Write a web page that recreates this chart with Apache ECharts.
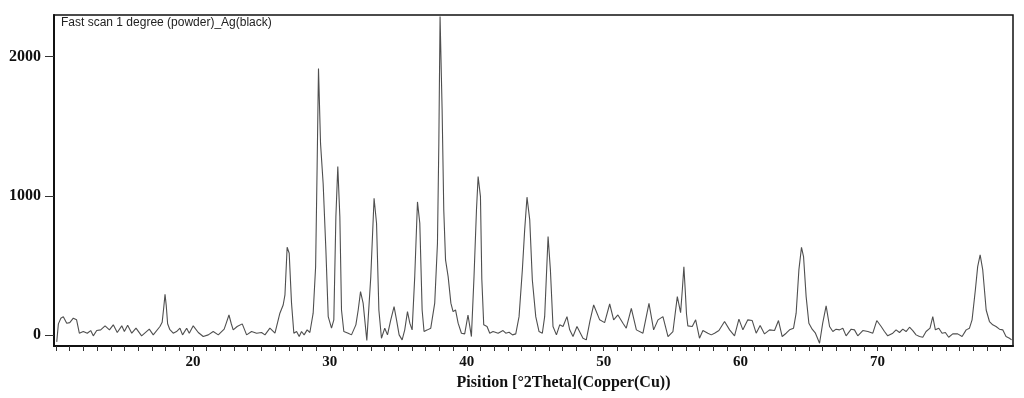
<!DOCTYPE html>
<html>
<head>
<meta charset="utf-8">
<script src="https://cdn.jsdelivr.net/npm/echarts@6/dist/echarts.min.js"></script>
<style>
html,body{margin:0;padding:0;background:#fff;}
#chart{width:1024px;height:398px;}
</style>
</head>
<body>
<div id="chart"></div>
<script>
const twoTheta = [10.05,10.17,10.35,10.53,10.78,11.0,11.26,11.5,11.7,11.99,12.28,12.53,12.72,12.97,13.26,13.58,13.9,14.18,14.47,14.8,14.99,15.23,15.53,15.84,16.25,16.81,17.1,17.59,17.75,17.87,17.96,18.05,18.15,18.3,18.56,18.8,19.05,19.24,19.54,19.73,20.02,20.39,20.75,21.12,21.48,21.85,22.28,22.45,22.63,22.8,22.94,23.23,23.6,23.92,24.28,24.65,25.01,25.26,25.62,
25.99,26.35,26.59,26.72,26.88,27.03,27.2,27.37,27.57,27.76,27.93,28.12,28.34,28.54,28.78,28.96,29.07,29.17,29.32,29.51,29.71,29.88,30.12,30.29,30.44,30.58,30.73,30.85,31.02,31.34,31.58,31.9,32.07,32.24,32.43,32.7,
32.99,33.23,33.41,33.58,33.77,34.01,34.21,34.45,34.69,34.87,35.06,35.28,35.47,35.67,35.84,36.01,36.2,36.4,36.57,36.74,36.88,37.13,37.37,37.66,37.86,37.96,38.05,38.2,38.32,38.45,38.64,38.84,39.0,39.18,39.37,39.61,39.85,40.09,40.34,40.53,40.71,40.83,41.0,41.1,41.24,
41.48,41.68,41.92,42.29,42.65,42.85,43.09,43.34,43.58,43.82,44.06,44.23,44.4,44.6,44.79,45.04,45.28,45.52,45.69,45.94,46.11,46.3,46.55,46.79,47.03,47.32,47.52,47.76,48.05,
48.49,48.73,49.0,49.27,49.71,50.07,50.44,50.73,51.04,51.41,51.65,52.02,52.39,52.87,53.31,53.65,53.97,54.33,54.7,55.06,55.38,55.62,55.75,55.86,55.97,56.05,56.15,56.47,56.72,57.0,57.25,57.61,57.86,58.1,58.42,58.83,59.2,59.56,59.88,60.17,60.53,60.85,61.14,61.43,61.75,62.12,62.48,62.77,
63.04,63.33,63.58,63.87,64.06,64.26,64.45,64.6,64.79,64.99,65.23,65.47,65.77,66.0,66.25,66.5,66.74,66.98,67.23,67.47,67.71,68.08,68.32,68.56,68.93,69.3,69.66,69.95,70.27,70.51,70.75,71.12,71.36,71.61,71.85,72.09,72.34,72.58,72.82,73.07,73.31,73.55,73.84,74.04,74.23,74.48,74.72,74.96,75.2,75.5,75.86,76.18,76.48,76.72,76.91,77.15,77.32,77.5,77.69,77.94,78.18,78.42,78.66,78.91,79.15,79.39,79.64,79.8];
const counts = [-50,79,120,131,84,88,120,108,12,24,12,31,-7,31,36,65,36,72,17,65,24,70,12,48,-7,41,0,60,90,200,292,210,80,40,12,24,48,0,48,12,65,17,-12,0,24,0,41,90,143,80,36,60,79,0,24,12,17,0,48,
12,156,215,287,630,587,228,12,24,-12,24,0,36,17,156,490,1210,1915,1375,1088,611,131,48,108,850,1210,850,179,24,12,0,72,179,311,228,-40,
419,982,803,179,-24,48,0,108,203,108,0,-36,36,167,84,36,419,956,803,179,24,36,48,228,659,1378,2290,1618,899,539,419,228,167,179,84,12,7,143,-12,419,899,1138,994,400,72,
60,12,24,12,31,12,19,0,7,131,467,755,990,827,395,131,24,12,131,707,467,60,0,72,60,131,36,-12,60,
-24,-36,100,215,108,88,222,108,143,84,48,191,36,12,227,36,108,131,-12,24,275,160,330,490,300,150,65,60,108,-24,31,12,0,12,31,96,36,-7,113,36,108,103,12,67,7,36,31,103,
-12,12,36,48,156,467,629,563,275,84,41,12,-60,84,208,60,24,41,36,48,-7,41,36,-7,31,24,12,103,60,24,-7,12,36,17,41,24,55,31,0,-12,-17,24,48,131,36,48,12,17,-17,7,7,-12,36,48,108,323,491,575,467,179,96,72,60,41,36,-12,-24,-36];
const xTickLabels = [20,30,40,50,60,70];
const yTickLabels = [0,1000,2000];
const titleText = 'Fast scan 1 degree (powder)_Ag(black)';
const xAxisName = 'Pisition [°2Theta](Copper(Cu))';

const xMinorTicks = [];
for (let v = 10; v <= 79; v++) xMinorTicks.push(v);

const seriesData = twoTheta.map((x, i) => [x, counts[i]]);

const chart = echarts.init(document.getElementById('chart'), null, {renderer: 'canvas'});
const serifBold = {fontFamily: '"Liberation Serif","Times New Roman",serif', fontWeight: 'bold', color: '#111'};
chart.setOption({
  animation: false,
  backgroundColor: '#fff',
  title: {
    text: titleText,
    left: 56, top: 12,
    textStyle: {fontFamily: '"Liberation Sans",Arial,sans-serif', fontSize: 12, fontWeight: 'normal', color: '#222'}
  },
  grid: {left: 54, right: 11, top: 15, bottom: 52, show: true, borderColor: '#111', borderWidth: 1.5, backgroundColor: 'transparent'},
  xAxis: {
    type: 'value', min: 9.85, max: 79.9,
    splitLine: {show: false},
    axisLine: {onZero: false, lineStyle: {color: '#111', width: 2}},
    axisTick: {show: true, length: 5, inside: false, customValues: xMinorTicks, lineStyle: {color: '#333', width: 1}},
    axisLabel: {customValues: xTickLabels, margin: 9, fontSize: 15, ...serifBold},
    name: xAxisName, nameLocation: 'middle', nameGap: 29,
    nameTextStyle: {fontSize: 16, padding: [0, 0, 0, 60], ...serifBold}
  },
  yAxis: {
    type: 'value', min: -80, max: 2300,
    splitLine: {show: false},
    axisLine: {show: true, onZero: false, lineStyle: {color: '#111', width: 2}},
    axisTick: {show: true, length: 9, customValues: yTickLabels, lineStyle: {color: '#333', width: 1}},
    axisLabel: {customValues: yTickLabels, margin: 13, fontSize: 16, formatter: v => String(v), ...serifBold}
  },
  series: [{
    type: 'line', data: seriesData, showSymbol: false, smooth: false,
    lineStyle: {color: '#4f4f4f', width: 1.1}, clip: true
  }]
});
</script>
</body>
</html>
